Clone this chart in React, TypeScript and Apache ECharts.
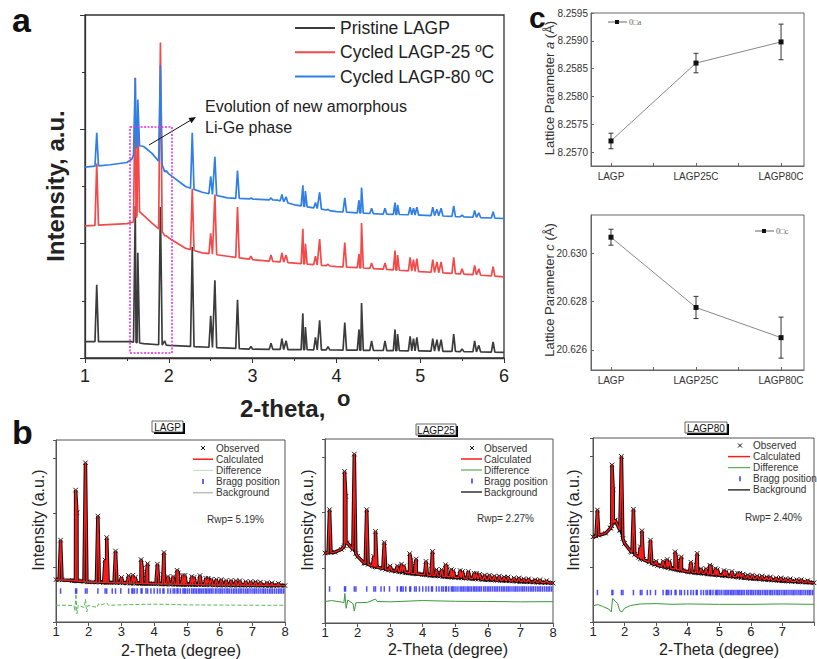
import React, { useEffect, useRef } from "react";
import * as echarts from "echarts";

// ---------- Panel a: XRD patterns ----------
const aPeakPos = [1.14, 1.6, 1.63, 1.9, 1.95, 2.28, 2.5, 2.55, 2.82, 2.98, 3.22, 3.35, 3.4, 3.6, 3.63, 3.75, 3.8, 3.9, 4.1, 4.27, 4.3, 4.42, 4.58, 4.7, 4.73, 4.88, 4.92, 4.96, 5.15, 5.2, 5.25, 5.4, 5.5, 5.65, 5.7, 5.87];
const aBlackBg = [[1, 0.143], [1.55, 0.143], [1.7, 0.125], [2.0, 0.11], [3.0, 0.077], [4.0, 0.07], [5.0, 0.062], [6.0, 0.05]];
const aBlackTop = [0.64, 1.33, 0.92, 1.32, 0.15, 0.97, 0.37, 0.68, 0.51, 0.1, 0.13, 0.17, 0.15, 0.39, 0.27, 0.18, 0.33, 0.1, 0.31, 0.25, 0.48, 0.15, 0.15, 0.25, 0.21, 0.19, 0.17, 0.18, 0.17, 0.16, 0.16, 0.21, 0.08, 0.15, 0.11, 0.14];
const aRedBg = [[1, 1.155], [1.5, 1.175], [1.58, 1.19], [1.65, 1.28], [1.8, 1.18], [2.0, 1.05], [2.2, 0.96], [2.4, 0.92], [2.7, 0.89], [3.0, 0.86], [3.5, 0.83], [4.0, 0.8], [4.5, 0.78], [5.0, 0.755], [5.5, 0.735], [6.0, 0.71]];
const aRedTop = [1.7, 2.45, 2.17, 2.76, 1.07, 1.48, 1.09, 1.43, 1.32, 0.89, 0.9, 0.92, 0.9, 1.13, 1.0, 0.89, 1.04, 0.82, 1.01, 0.91, 1.18, 0.83, 0.83, 0.94, 0.9, 0.88, 0.86, 0.87, 0.86, 0.84, 0.84, 0.88, 0.78, 0.81, 0.78, 0.8];
const aBlueBg = [[1, 1.67], [1.3, 1.69], [1.5, 1.71], [1.56, 1.74], [1.62, 1.86], [1.7, 1.85], [1.8, 1.79], [1.88, 1.72], [2.0, 1.61], [2.2, 1.5], [2.4, 1.45], [2.7, 1.4], [3.0, 1.39], [3.3, 1.38], [3.5, 1.34], [4.0, 1.28], [4.5, 1.26], [5.0, 1.25], [5.5, 1.235], [6.0, 1.22]];
const aBlueTop = [1.97, 2.45, 2.26, 2.56, 1.63, 1.97, 1.59, 1.76, 1.64, 1.4, 1.4, 1.43, 1.41, 1.51, 1.46, 1.36, 1.45, 1.3, 1.4, 1.38, 1.49, 1.31, 1.31, 1.36, 1.34, 1.32, 1.31, 1.32, 1.32, 1.3, 1.31, 1.33, 1.25, 1.29, 1.27, 1.28];
const aLegend = ["Pristine LAGP", "Cycled LAGP-25 ºC", "Cycled LAGP-80 ºC"];
const aColors = ["#3c3c3c", "#f24a4a", "#2f7fe6"];

// ---------- Panel c: lattice parameters ----------
const cLabels = ["LAGP", "LAGP25C", "LAGP80C"];
const latA = [8.2572, 8.2586, 8.25898];
const latAErr = [0.00014, 0.000175, 0.00032];
const latC = [20.63067, 20.62776, 20.62651];
const latCErr = [0.00033, 0.00046, 0.00085];
const latATicks = [8.257, 8.2575, 8.258, 8.2585, 8.259, 8.2595];
const latCTicks = [20.626, 20.628, 20.63];

// ---------- Panel b: Rietveld refinements ----------
const bPeakPos = [1.14, 1.6, 1.64, 1.9, 2.28, 2.5, 2.55, 2.82, 3.0, 3.22, 3.35, 3.42, 3.6, 3.64, 3.76, 3.8, 4.1, 4.27, 4.3, 4.42, 4.58, 4.7, 4.74, 4.88, 4.94, 5.15, 5.22, 5.4, 5.58, 5.65, 5.75, 5.9, 6.05, 6.2, 6.35, 6.5, 6.62, 6.8, 6.95, 7.1, 7.25, 7.45, 7.6, 7.8];
const b1Bg = [[1, 23.3], [1.5, 22.8], [2, 22], [3, 21.5], [4, 21], [5, 20.6], [6, 20.3], [8, 20]];
const b1Top = [45, 72.5, 60, 87.5, 58.2, 34, 46.4, 39, 24.5, 25.5, 25.7, 24.5, 34.3, 29.5, 26, 32.1, 31.8, 26, 38.2, 25, 25, 28.4, 27, 25.6, 25.6, 25, 24.5, 25.5, 24, 24, 23.5, 23.4, 23.3, 22.8, 22.8, 22.7, 22.7, 22.2, 22.2, 22.1, 21.9, 21.6, 21.5, 21.2];
const b1Diff = [[1, 9.2], [1.3, 9.2], [1.55, 9.0], [1.58, 6], [1.61, 15.5], [1.64, 4.5], [1.68, 9.2], [1.86, 8], [1.9, 12.5], [1.94, 5.5], [1.98, 9.2], [2.25, 8], [2.3, 10], [2.35, 9.2], [2.55, 10.5], [2.6, 9.2], [3.4, 9.6], [4.0, 9.8], [4.6, 9.6], [5.0, 9.4], [6.0, 9.3], [7.0, 9.2], [8.0, 9.2]];
const b2Bg = [[1, 38], [1.3, 38.5], [1.5, 40], [1.6, 42], [1.66, 44], [1.76, 42], [1.9, 39], [2.0, 36.2], [2.2, 32.6], [2.5, 30.8], [3, 28.6], [3.5, 27.4], [4, 26.3], [5, 24.8], [6, 23.5], [7, 22.6], [8, 21.7]];
const b2Top = [61.6, 82.4, 68.8, 91.8, 61.6, 36.2, 49.8, 43.8, 31, 31, 32, 31, 37.7, 34, 31, 34.8, 33.5, 31, 38.9, 29, 29, 31.7, 30.5, 29, 28.5, 28.5, 28, 28, 27, 27, 26.5, 26, 26, 25.5, 25.5, 25, 25, 24.5, 24.5, 24, 24, 23.5, 23.5, 23];
const b2Diff = [[1, 11.7], [1.2, 12.2], [1.5, 11.4], [1.58, 11], [1.61, 16], [1.65, 8], [1.7, 12.5], [1.86, 10.5], [1.9, 6.5], [1.95, 11], [2.3, 11.2], [2.55, 13], [2.6, 11.7], [3.0, 11.5], [4.0, 12.2], [5.0, 11.8], [6.0, 11.7], [7.0, 11.5], [8.0, 11.6]];
const b3Bg = [[1, 46.3], [1.4, 48.2], [1.55, 51], [1.7, 55.4], [1.85, 50], [2.0, 42.7], [2.2, 38.3], [2.5, 34.6], [3, 30.9], [3.5, 29.1], [4, 27.3], [5, 25.5], [6, 23.7], [7, 22.4], [8, 21.3]];
const b3Top = [60.9, 85.4, 71.8, 90, 61.3, 40.9, 49.6, 44.5, 33, 33, 34, 33, 38.2, 35, 33, 35.4, 32.5, 31, 37.3, 29, 29, 30.9, 30, 29, 28.5, 28, 27.5, 27.5, 26.5, 26.5, 26, 25.5, 25.5, 25, 25, 24.5, 24.5, 24, 24, 23.5, 23.5, 23, 23, 22.5];
const b3Diff = [[1, 8.7], [1.15, 9.5], [1.3, 8.5], [1.5, 7], [1.58, 5.5], [1.62, 12.8], [1.7, 11.5], [1.78, 10], [1.85, 6], [1.92, 5.5], [2.0, 7.5], [2.2, 9], [2.5, 9.8], [3, 10], [3.5, 9.6], [4, 9.8], [5, 9.6], [6, 9.6], [7, 9.8], [8, 9.6]];
const braggPos = [1.14, 1.6, 1.63, 1.9, 1.95, 2.28, 2.5, 2.55, 2.72, 2.82, 2.98, 3.22, 3.32, 3.35, 3.4, 3.48, 3.6, 3.63, 3.75, 3.8, 3.9, 4.0, 4.1, 4.18, 4.27, 4.3, 4.42, 4.5, 4.58, 4.63, 4.7, 4.73, 4.8, 4.88, 4.92, 4.96, 5.02, 5.08, 5.15, 5.2, 5.25, 5.3, 5.36, 5.4, 5.45, 5.5, 5.56, 5.6, 5.65, 5.7, 5.75, 5.8, 5.87, 5.92, 5.98, 6.03, 6.08, 6.14, 6.2, 6.25, 6.3, 6.36, 6.42, 6.47, 6.52, 6.58, 6.63, 6.68, 6.74, 6.8, 6.85, 6.9, 6.96, 7.02, 7.07, 7.12, 7.18, 7.24, 7.3, 7.35, 7.4, 7.46, 7.52, 7.57, 7.62, 7.68, 7.74, 7.8, 7.85, 7.9, 7.96];
const braggLevel = [17, 18.5, 16];
const bTitles = ["LAGP", "LAGP25", "LAGP80"];
const bRwp = ["Rwp= 5.19%", "Rwp= 2.27%", "Rwp= 2.40%"];
const bLegendNames = ["Observed", "Calculated", "Difference", "Bragg position", "Background"];

const FONT = "Liberation Sans, Arial, Helvetica, sans-serif";

function interp(bg: number[][], x: number): number {
  if (x <= bg[0][0]) return bg[0][1];
  for (let i = 1; i < bg.length; i++) {
    if (x <= bg[i][0]) {
      const [x0, y0] = bg[i - 1];
      const [x1, y1] = bg[i];
      return y0 + ((y1 - y0) * (x - x0)) / (x1 - x0);
    }
  }
  return bg[bg.length - 1][1];
}

function profile(bg: number[][], pos: number[], tops: number[], w: number): number[][] {
  const pts: number[][] = [];
  bg.forEach((p) => {
    if (!pos.some((c) => Math.abs(c - p[0]) < w)) pts.push([p[0], p[1]]);
  });
  pos.forEach((c, i) => {
    pts.push([c - w, interp(bg, c - w)]);
    pts.push([c, tops[i]]);
    pts.push([c + w, interp(bg, c + w)]);
  });
  pts.sort((a, b) => a[0] - b[0]);
  return pts;
}

const crossSymbol = "path://M0,0L10,10M10,0L0,10";

export default function App() {
  const ref = useRef<HTMLDivElement>(null);
  useEffect(() => {
    if (!ref.current) return;
    const chart = echarts.init(ref.current, undefined, { renderer: "svg" });

    const grids = [
      { left: 85, top: 15, width: 419, height: 343 },
      { left: 591, top: 13, width: 213, height: 153 },
      { left: 591, top: 215, width: 213, height: 155 },
      { left: 56, top: 440, width: 229, height: 182 },
      { left: 325, top: 439, width: 228, height: 184 },
      { left: 593, top: 438, width: 222, height: 184 },
    ].map((g, i) => ({
      ...g,
      show: true,
      borderColor: i === 0 ? "#333" : i < 3 ? "#666" : "#555",
      borderWidth: i === 0 ? 1.3 : 1,
      backgroundColor: "transparent",
      containLabel: false,
    }));

    const bX = (gi: number, hideLast: boolean) => ({
      type: "value",
      gridIndex: gi,
      min: 1,
      max: 8,
      interval: 1,
      axisLine: { show: true, onZero: false, lineStyle: { color: "#555", width: 1 } },
      axisTick: { show: true, length: 4, lineStyle: { color: "#555" } },
      splitLine: { show: false },
      axisLabel: {
        fontSize: 13,
        color: "#222",
        margin: 3,
        fontFamily: FONT,
        formatter: (v: number) => (hideLast && v === 8 ? "" : String(v)),
      },
    });
    const bY = (gi: number) => ({
      type: "value",
      gridIndex: gi,
      min: 0,
      max: 100,
      interval: 30,
      axisLine: { show: true, onZero: false, lineStyle: { color: "#555", width: 1 } },
      axisTick: { show: true, length: 3, lineStyle: { color: "#555" } },
      splitLine: { show: false },
      axisLabel: { show: false },
    });

    const xAxes: any[] = [
      {
        type: "value",
        gridIndex: 0,
        min: 1,
        max: 6,
        interval: 1,
        axisLine: { show: true, onZero: false, lineStyle: { color: "#333", width: 1.3 } },
        axisTick: { show: true, length: 5, lineStyle: { color: "#333" } },
        minorTick: { show: true, splitNumber: 2, length: 3, lineStyle: { color: "#333" } },
        splitLine: { show: false },
        axisLabel: { fontSize: 18, color: "#222", margin: 9, fontFamily: FONT },
      },
      ...[1, 2].map((gi) => ({
        type: "value",
        gridIndex: gi,
        min: -0.235,
        max: 2.27,
        axisLine: { show: true, onZero: false, lineStyle: { color: "#666", width: 1 } },
        axisTick: { show: true, inside: true, length: 3, customValues: [0, 0.5, 1, 1.5, 2], lineStyle: { color: "#666" } },
        splitLine: { show: false },
        axisLabel: {
          fontSize: 10,
          color: "#333",
          margin: 5,
          fontFamily: FONT,
          customValues: [0, 1, 2],
          formatter: (v: number) => cLabels[Math.round(v)] ?? "",
        },
      })),
      bX(3, false),
      bX(4, false),
      bX(5, true),
    ];

    const yAxes: any[] = [
      {
        type: "value",
        gridIndex: 0,
        min: 0,
        max: 3,
        interval: 1,
        axisLine: { show: true, onZero: false, lineStyle: { color: "#333", width: 1.3 } },
        axisTick: { show: true, length: 5, lineStyle: { color: "#333" } },
        minorTick: { show: true, splitNumber: 2, length: 3, lineStyle: { color: "#333" } },
        splitLine: { show: false },
        axisLabel: { show: false },
      },
      {
        type: "value",
        gridIndex: 1,
        min: 8.25675,
        max: 8.2595,
        axisLine: { show: true, onZero: false, lineStyle: { color: "#666" } },
        axisTick: { show: true, inside: true, length: 3, customValues: latATicks, lineStyle: { color: "#666" } },
        splitLine: { show: false },
        axisLabel: {
          fontSize: 10,
          color: "#333",
          margin: 3,
          fontFamily: FONT,
          customValues: latATicks,
          formatter: (v: number) => v.toFixed(4),
        },
      },
      {
        type: "value",
        gridIndex: 2,
        min: 20.62517,
        max: 20.63159,
        axisLine: { show: true, onZero: false, lineStyle: { color: "#666" } },
        axisTick: { show: true, inside: true, length: 3, customValues: latCTicks, lineStyle: { color: "#666" } },
        splitLine: { show: false },
        axisLabel: {
          fontSize: 10,
          color: "#333",
          margin: 4,
          fontFamily: FONT,
          customValues: latCTicks,
          formatter: (v: number) => v.toFixed(3),
        },
      },
      bY(3),
      bY(4),
      bY(5),
    ];

    const series: any[] = [];
    // Panel a
    [
      [aBlackBg, aBlackTop],
      [aRedBg, aRedTop],
      [aBlueBg, aBlueTop],
    ].forEach(([bg, top], i) => {
      series.push({
        type: "line",
        name: aLegend[i],
        xAxisIndex: 0,
        yAxisIndex: 0,
        data: profile(bg as number[][], aPeakPos, top as number[], 0.021),
        showSymbol: false,
        lineStyle: { color: aColors[i], width: 1.7 },
        z: 2 + i,
      });
    });

    // Panel c
    const errSeries = (gi: number, vals: number[], errs: number[]) => ({
      type: "custom",
      xAxisIndex: gi,
      yAxisIndex: gi,
      data: vals.map((v, i) => [i, v, errs[i]]),
      renderItem: (_p: any, api: any) => {
        const x = api.value(0);
        const y = api.value(1);
        const e = api.value(2);
        const t = api.coord([x, y + e]);
        const b = api.coord([x, y - e]);
        return {
          type: "group",
          children: [
            { type: "line", shape: { x1: t[0], y1: t[1], x2: b[0], y2: b[1] }, style: { stroke: "#333", lineWidth: 1 } },
            { type: "line", shape: { x1: t[0] - 2.5, y1: t[1], x2: t[0] + 2.5, y2: t[1] }, style: { stroke: "#333", lineWidth: 1 } },
            { type: "line", shape: { x1: b[0] - 2.5, y1: b[1], x2: b[0] + 2.5, y2: b[1] }, style: { stroke: "#333", lineWidth: 1 } },
          ],
        };
      },
      z: 3,
    });
    [
      [1, latA, latAErr],
      [2, latC, latCErr],
    ].forEach(([gi, vals, errs]: any) => {
      series.push({
        type: "line",
        xAxisIndex: gi,
        yAxisIndex: gi,
        data: vals.map((v: number, i: number) => [i, v]),
        symbol: "rect",
        symbolSize: 5,
        itemStyle: { color: "#111" },
        lineStyle: { color: "#888", width: 1 },
        z: 4,
      });
      series.push(errSeries(gi, vals, errs));
    });

    // Panel b
    const bSets = [
      { bg: b1Bg, top: b1Top, diff: b1Diff, diffColor: "#5cb85c", diffType: [4, 2], bgColor: "#777", bgWidth: 0.8 },
      { bg: b2Bg, top: b2Top, diff: b2Diff, diffColor: "#3a9a3a", diffType: "solid", bgColor: "#000", bgWidth: 1.5 },
      { bg: b3Bg, top: b3Top, diff: b3Diff, diffColor: "#3a9a3a", diffType: "solid", bgColor: "#000", bgWidth: 1.8 },
    ];
    bSets.forEach((s, k) => {
      const gi = 3 + k;
      const prof = profile(s.bg, bPeakPos, s.top, 0.045);
      series.push({
        type: "line",
        xAxisIndex: gi,
        yAxisIndex: gi,
        data: prof,
        symbol: crossSymbol,
        symbolSize: 4.5,
        showAllSymbol: true,
        itemStyle: { color: "none", borderColor: "#111", borderWidth: 1 },
        lineStyle: { color: "#111", width: 3.5 },
        z: 2,
      });
      series.push({
        type: "line",
        xAxisIndex: gi,
        yAxisIndex: gi,
        data: s.bg,
        showSymbol: false,
        lineStyle: { color: s.bgColor, width: s.bgWidth },
        z: 3,
      });
      series.push({
        type: "line",
        xAxisIndex: gi,
        yAxisIndex: gi,
        data: prof,
        showSymbol: false,
        lineStyle: { color: "#ff1a1a", width: 1.4 },
        z: 4,
      });
      series.push({
        type: "scatter",
        xAxisIndex: gi,
        yAxisIndex: gi,
        data: braggPos.map((p) => [p, braggLevel[k]]),
        symbol: "rect",
        symbolSize: [1.5, 5.5],
        itemStyle: { color: "#2323ff" },
        z: 3,
      });
      series.push({
        type: "line",
        xAxisIndex: gi,
        yAxisIndex: gi,
        data: s.diff,
        showSymbol: false,
        lineStyle: { color: s.diffColor, width: 1, type: s.diffType },
        z: 3,
      });
    });

    // ---------- graphics ----------
    const g: any[] = [];
    const txt = (text: string, x: number, y: number, o: any = {}) =>
      g.push({
        type: "text",
        x,
        y,
        rotation: o.rotation || 0,
        z: 100,
        style: {
          text,
          fontSize: o.fontSize || 12,
          fontWeight: o.fontWeight || "normal",
          fontFamily: o.fontFamily || FONT,
          fill: o.fill || "#222",
          align: o.align || "left",
          verticalAlign: o.verticalAlign || "middle",
        },
      });
    const ln = (x1: number, y1: number, x2: number, y2: number, stroke: string, lineWidth = 1, lineDash?: number[]) =>
      g.push({ type: "line", z: 100, shape: { x1, y1, x2, y2 }, style: { stroke, lineWidth, lineDash } });

    // panel labels
    txt("a", 12, 20, { fontSize: 34, fontWeight: "bold", fill: "#111" });
    txt("b", 12, 432, { fontSize: 34, fontWeight: "bold", fill: "#111" });
    txt("c", 529, 17, { fontSize: 30, fontWeight: "bold", fill: "#111" });

    // panel a titles
    txt("Intensity, a.u.", 55, 186, { fontSize: 24, fontWeight: "bold", rotation: Math.PI / 2, align: "center" });
    txt("2-theta,", 240, 408, { fontSize: 24, fontWeight: "bold" });
    txt("o", 337, 398.5, { fontSize: 22, fontWeight: "bold" });
    aLegend.forEach((name, i) => {
      const y = 28 + i * 24.3;
      ln(295, y, 335, y, aColors[i], 2);
      txt(name, 340, y, { fontSize: 17.5, fill: "#222" });
    });
    txt("Evolution of new amorphous", 205, 106, { fontSize: 16 });
    txt("Li-Ge phase", 205, 127, { fontSize: 16 });
    ln(149, 145, 190, 120.6, "#111", 1);
    g.push({ type: "polygon", z: 100, shape: { points: [[196, 117], [191.5, 123.2], [188.5, 118]] }, style: { fill: "#111" } });
    g.push({ type: "rect", z: 100, shape: { x: 130, y: 127, width: 42, height: 226 }, style: { fill: "none", stroke: "#e030e0", lineWidth: 1.5, lineDash: [2, 1.5] } });

    // panel c titles & legends
    const latStyle = (sym: string) => ({
      text: "{n|Lattice Parameter }{i|" + sym + "}{n| (Å)}",
      align: "center",
      verticalAlign: "middle",
      fill: "#333",
      rich: {
        n: { fontSize: 13, fontFamily: FONT, fill: "#333" },
        i: { fontSize: 13, fontFamily: FONT, fontStyle: "italic", fill: "#333" },
      },
    });
    g.push({ type: "text", x: 549, y: 88, rotation: Math.PI / 2, z: 100, style: latStyle("a") });
    g.push({ type: "text", x: 549, y: 290, rotation: Math.PI / 2, z: 100, style: latStyle("c") });
    ln(608, 22, 627, 22, "#666", 1);
    g.push({ type: "rect", z: 100, shape: { x: 615, y: 20, width: 4, height: 4 }, style: { fill: "#111" } });
    txt("0□a", 629, 22, { fontSize: 8, fontFamily: "Liberation Serif, serif", fill: "#666" });
    ln(755, 231, 774, 231, "#666", 1);
    g.push({ type: "rect", z: 100, shape: { x: 762, y: 229, width: 4, height: 4 }, style: { fill: "#111" } });
    txt("0□c", 776, 231, { fontSize: 8, fontFamily: "Liberation Serif, serif", fill: "#666" });

    // panel b titles, legends
    const bBoxes = [
      { x: 152, y: 421, w: 31, h: 11 },
      { x: 416, y: 424, w: 40, h: 11 },
      { x: 685, y: 422, w: 42, h: 11 },
    ];
    const bLeg = [
      { cx: 203, x1: 193, x2: 213, tx: 216, y0: 448, dy: 11.2 },
      { cx: 472, x1: 461, x2: 482, tx: 484, y0: 448, dy: 11 },
      { cx: 740, x1: 728, x2: 750, tx: 753, y0: 445.5, dy: 11.1 },
    ];
    const bRwpPos = [[207, 519], [477, 518], [745, 517]];
    const bYTitle = [38, 307, 573];
    const bXTitle = [[181, 650], [448, 649.5], [719, 649.5]];
    bBoxes.forEach((b, k) => {
      g.push({ type: "rect", z: 100, shape: { x: b.x + 2, y: b.y + 2, width: b.w, height: b.h }, style: { fill: "#000" } });
      g.push({ type: "rect", z: 101, shape: { x: b.x, y: b.y, width: b.w, height: b.h }, style: { fill: "#fff", stroke: "#444", lineWidth: 0.8 } });
      g.push({ type: "text", z: 102, x: b.x + b.w / 2, y: b.y + b.h / 2 + 0.5, style: { text: bTitles[k], fontSize: 10, fontFamily: FONT, fill: "#111", align: "center", verticalAlign: "middle" } });
      const L = bLeg[k];
      const ys = bLegendNames.map((_, i) => L.y0 + i * L.dy);
      ln(L.cx - 2, ys[0] - 2, L.cx + 2, ys[0] + 2, "#111", 1);
      ln(L.cx - 2, ys[0] + 2, L.cx + 2, ys[0] - 2, "#111", 1);
      ln(L.x1, ys[1], L.x2, ys[1], "#ff1a1a", 1.5);
      ln(L.x1, ys[2], L.x2, ys[2], k === 0 ? "#b9dfb9" : "#3a9a3a", 1);
      g.push({ type: "rect", z: 100, shape: { x: L.cx - 0.7, y: ys[3] - 2.5, width: 1.4, height: 5 }, style: { fill: "#2323ff" } });
      ln(L.x1, ys[4], L.x2, ys[4], k === 0 ? "#888" : "#000", k === 0 ? 0.8 : 1.2);
      bLegendNames.forEach((n, i) => txt(n, L.tx, ys[i], { fontSize: 10, fill: "#333" }));
      txt(bRwp[k], bRwpPos[k][0], bRwpPos[k][1], { fontSize: 10, fill: "#333" });
      txt("Intensity (a.u.)", bYTitle[k], 520, { fontSize: 16, rotation: Math.PI / 2, align: "center", fill: "#222" });
      txt("2-Theta (degree)", bXTitle[k][0], bXTitle[k][1], { fontSize: 16, align: "center", fill: "#222" });
    });

    chart.setOption({
      animation: false,
      backgroundColor: "#fff",
      grid: grids,
      xAxis: xAxes,
      yAxis: yAxes,
      series,
      graphic: g,
    });
    return () => chart.dispose();
  }, []);
  return <div ref={ref} style={{ position: "absolute", left: 0, top: 0, width: 817, height: 659 }} />;
}
